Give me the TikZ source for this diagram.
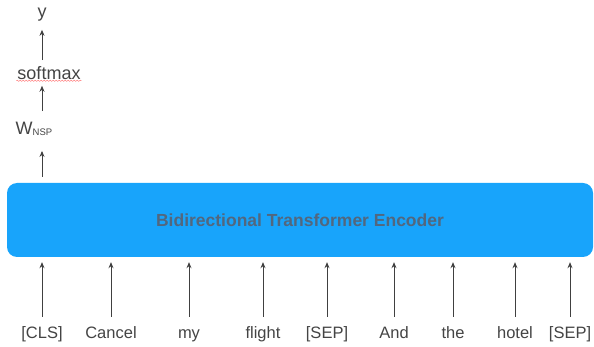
\documentclass[tikz,border=0pt]{standalone}
\usepackage{fontspec}
\setmainfont{Liberation Sans}
\usepackage{tikz}
\usetikzlibrary{positioning,arrows.meta,decorations.pathmorphing}
\definecolor{encblue}{HTML}{18A4FB}
\definecolor{enctext}{HTML}{52677E}
\definecolor{labgray}{HTML}{444444}

\begin{document}
\begin{tikzpicture}[x=1pt,y=-1pt,>={Stealth[length=6pt,width=5pt]},
  tok/.style={text=labgray,font=\fontsize{16.5}{19}\selectfont,anchor=base,text height=11pt,text depth=3pt,inner sep=2pt},
  head/.style={text=labgray,font=\fontsize{18}{21}\selectfont,inner sep=1pt},
  encbox/.style={fill=encblue,rounded corners=10pt,minimum width=586pt,minimum height=74pt,text=enctext,font=\fontsize{17.5}{20}\bfseries},
  up/.style={black!75,line width=0.9pt,->}]
\useasboundingbox (0,0) rectangle (594,347);

\node[encbox] (enc) at (300,220) {Bidirectional Transformer Encoder\hspace{10pt}};

\node[tok] (cls) at (42,338) {[CLS]};
\node[tok] (cancel) at (111,338) {Cancel};
\node[tok] (my) at (189,338) {my};
\node[tok] (flight) at (263,338) {flight};
\node[tok] (sepa) at (327,338) {[SEP]};
\node[tok] (and) at (394,338) {And};
\node[tok] (the) at (453,338) {the};
\node[tok] (hotel) at (515,338) {hotel};
\node[tok] (sepb) at (570,338) {[SEP]};

\draw[up,shorten <=8pt,shorten >=5pt] (cls.north) -- (cls.north |- enc.south);
\draw[up,shorten <=8pt,shorten >=5pt] (cancel.north) -- (cancel.north |- enc.south);
\draw[up,shorten <=8pt,shorten >=5pt] (my.north) -- (my.north |- enc.south);
\draw[up,shorten <=8pt,shorten >=5pt] (flight.north) -- (flight.north |- enc.south);
\draw[up,shorten <=8pt,shorten >=5pt] (sepa.north) -- (sepa.north |- enc.south);
\draw[up,shorten <=8pt,shorten >=5pt] (and.north) -- (and.north |- enc.south);
\draw[up,shorten <=8pt,shorten >=5pt] (the.north) -- (the.north |- enc.south);
\draw[up,shorten <=8pt,shorten >=5pt] (hotel.north) -- (hotel.north |- enc.south);
\draw[up,shorten <=8pt,shorten >=5pt] (sepb.north) -- (sepb.north |- enc.south);

\node[head] (wnsp) at (34,129) {W\raisebox{-1pt}{\fontsize{9.5}{10}\selectfont NSP}};
\node[head] (smax) at (49,73) {softmax};
\node[head] (y) at (42,15) {y};

\draw[red!60,decorate,decoration={snake,amplitude=0.6pt,segment length=3pt}] (smax.south west) -- (smax.south east);

\draw[up,shorten <=6pt,shorten >=14pt] (enc.north -| cls) -- (wnsp.south -| cls);
\draw[up,shorten <=10pt,shorten >=5pt] (wnsp.north -| cls) -- (smax.south -| cls);
\draw[up,shorten <=5pt,shorten >=7pt] (smax.north -| cls) -- (y.south -| cls);
\end{tikzpicture}
\end{document}
